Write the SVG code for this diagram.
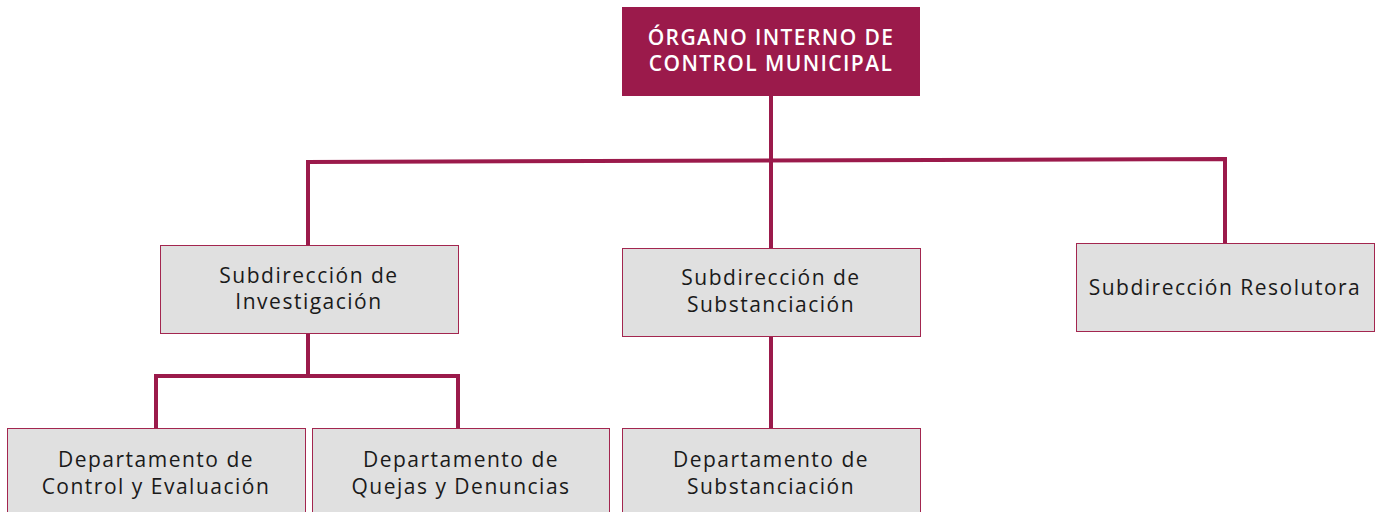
<svg xmlns="http://www.w3.org/2000/svg" width="1377" height="512" viewBox="0 0 1377 512">
<style>
.box{fill:#e0e0e0;stroke:#a3264f;stroke-width:1}
.top{fill:#9b1a4b}
.t{font-family:"Open Sans","Liberation Sans",sans-serif;font-size:21px;letter-spacing:1.5px;fill:#1a1a1a;text-anchor:middle}
.tw{font-family:"Open Sans","Liberation Sans",sans-serif;font-size:21px;font-weight:600;letter-spacing:1.4px;fill:#ffffff;text-anchor:middle}
.c{fill:none;stroke:#9b1a4b;stroke-width:4;stroke-linecap:square}
</style>
<rect width="1377" height="512" fill="#ffffff"/>
<g id="connectors">
<path class="c" d="M771 96V247"/>
<path class="c" d="M308 245V162L1225 159V243"/>
<path class="c" d="M308 334V376"/>
<path class="c" d="M156 428V376H458V428"/>
<path class="c" d="M771 337V428"/>
</g>
<g id="organo">
<rect class="top" x="622" y="7" width="298" height="89"/>
<text class="tw" x="771" y="45"><tspan x="771">ÓRGANO INTERNO DE</tspan><tspan x="771" dy="26">CONTROL MUNICIPAL</tspan></text>
</g>
<g id="sub-investigacion">
<rect class="box" x="160.5" y="245.5" width="298" height="88"/>
<text class="t" x="309" y="283"><tspan x="309">Subdirección de</tspan><tspan x="309" dy="26">Investigación</tspan></text>
</g>
<g id="sub-substanciacion">
<rect class="box" x="622.5" y="248.5" width="298" height="88"/>
<text class="t" x="771" y="285"><tspan x="771">Subdirección de</tspan><tspan x="771" dy="27">Substanciación</tspan></text>
</g>
<g id="sub-resolutora">
<rect class="box" x="1076.5" y="243.5" width="298" height="88"/>
<text class="t" x="1225" y="295">Subdirección Resolutora</text>
</g>
<g id="depto-control">
<rect class="box" x="7.5" y="428.5" width="298" height="90"/>
<text class="t" x="156" y="467"><tspan x="156">Departamento de</tspan><tspan x="156" dy="27">Control y Evaluación</tspan></text>
</g>
<g id="depto-quejas">
<rect class="box" x="312.5" y="428.5" width="297" height="90"/>
<text class="t" x="461" y="467"><tspan x="461">Departamento de</tspan><tspan x="461" dy="27">Quejas y Denuncias</tspan></text>
</g>
<g id="depto-substanciacion">
<rect class="box" x="622.5" y="428.5" width="298" height="90"/>
<text class="t" x="771" y="467"><tspan x="771">Departamento de</tspan><tspan x="771" dy="27">Substanciación</tspan></text>
</g>
</svg>
